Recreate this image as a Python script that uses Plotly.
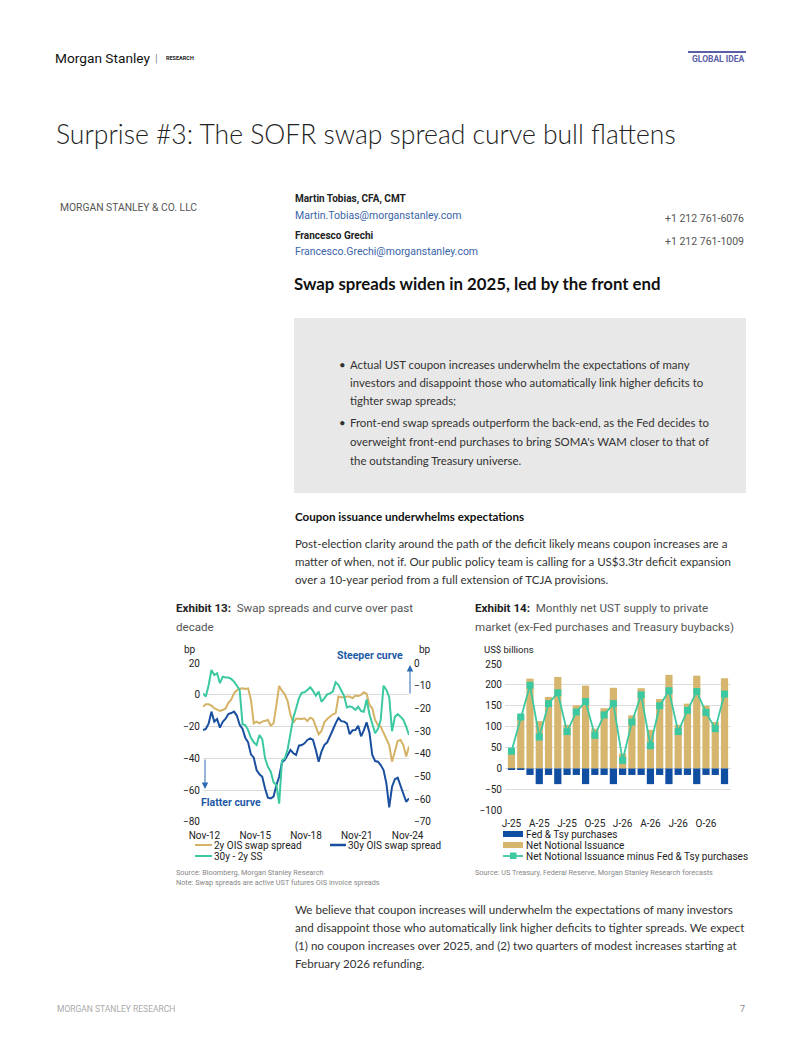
import plotly.graph_objects as go
import pandas as pd

W, H = 802, 1037


def X(px):
    return px / W


def Y(py):
    return 1 - py / H


# ---------------- Exhibit 13 data (bp) ----------------
dates13 = pd.date_range("2012-10-01", periods=74, freq="2MS")
ois2y = [-7.4, -5.9, -5.9, -6.7, -8.4, -9.1, -10.1, -9.5, -8.5, -5, -3, 1, 3, 4, 4.2, 3.8, 4.2, -3,
         -17.9, -16.8, -17.9, -16.8, -16.4, -15.8, -19.4, -17.9, -6.3, 5.7, 2.5, 0.4, -3.8, -12.6,
         -17.5, -15, -15, -15.2, -14.7, -16.4, -14.3, -15.2, -20, -24.8, -22.7, -17.3, -15.2, -13.7,
         -12.2, -11.6, -1, -1.5, -1.5, -1, -1, -2.1, -0.4, -0.6, 0, 1.7, 0.8, -6.3, -8.4, -15.8,
         -18.9, -20, -24.2, -27.4, -31.6, -42.1, -34.7, -29, -28.4, -31.6, -38.9, -32.6]
ois30y = [-22.1, -21.5, -17.9, -10.5, -16.8, -15.2, -20.6, -17, -15, -12, -11.4, -10.5, -13, -18.9,
          -21.5, -27, -29.9, -37.5, -39.6, -47.4, -50.1, -51.6, -59, -64.8, -65.3, -64.2, -56.8,
          -51.6, -42.5, -41, -37.9, -34.7, -36.8, -37.9, -32, -31.6, -30.5, -28.4, -27.4, -28.4,
          -34.7, -42.1, -35.8, -31.6, -29.9, -26.3, -22.1, -17.9, -14.5, -16.5, -16.8, -17.9, -24.8,
          -22.3, -22.1, -19.4, -26.1, -22.3, -17.3, -23.8, -37.9, -41.7, -42.1, -44.2, -47.4, -55.8,
          -71, -57.9, -53.1, -52.2, -57.3, -61.5, -67.4, -65.3]
curve30s2s = [-13.3, -14.7, -9.6, -2.9, -5.2, -4.4, -8.8, -5.9, -6.3, -6.3, -6.9, -8.1, -9.9, -11.8,
              -27, -27.3, -29.5, -32.9, -34.9, -36.1, -31.7, -33.5, -42, -45.7, -47.9, -52.6, -53.8,
              -62, -43, -42, -38, -31, -24, -20, -15.5, -13, -12.8, -11.8, -10.6, -12.2, -14.3, -12.5,
              -17, -15.5, -13.7, -13.3, -12.5, -8.4, -9.5, -12, -14.5, -19.5, -19, -19.5, -20.6, -19.2,
              -21.1, -21.4, -16, -22.5, -26.5, -30.9, -29, -25, -9.9, -11.8, -15, -30, -23.6, -22.5,
              -23.6, -25, -28, -31.7]
x13_tickvals = ["2012-11-01", "2015-11-01", "2018-11-01", "2021-11-01", "2024-11-01"]
x13_ticktext = ["Nov-12", "Nov-15", "Nov-18", "Nov-21", "Nov-24"]

# ---------------- Exhibit 14 data (US$ bn) ----------------
months14 = ["Jan-25", "Feb-25", "Mar-25", "Apr-25", "May-25", "Jun-25", "Jul-25", "Aug-25", "Sep-25",
            "Oct-25", "Nov-25", "Dec-25", "Jan-26", "Feb-26", "Mar-26", "Apr-26", "May-26", "Jun-26",
            "Jul-26", "Aug-26", "Sep-26", "Oct-26", "Nov-26", "Dec-26"]
net_issuance = [45, 127, 215, 113, 171, 219, 104, 151, 198, 95, 144, 193,
                35, 127, 192, 92, 166, 224, 104, 155, 222, 150, 111, 216]
fed_tsy = [-4, -4, -16, -38, -16, -38, -16, -16, -38, -16, -16, -38,
           -16, -16, -16, -38, -16, -38, -16, -16, -38, -16, -16, -38]
net_minus = [41, 123, 199, 75, 155, 181, 88, 135, 160, 79, 128, 155,
             19, 111, 176, 54, 150, 186, 88, 139, 184, 134, 95, 178]
x14_tickvals = months14[::3]
x14_ticktext = ["J-25", "A-25", "J-25", "O-25", "J-26", "A-26", "J-26", "O-26"]

GOLD = "#d4b266"
NAVY = "#1a4f9f"
TEAL = "#3cc8a0"
BARNAVY = "#0f4ea0"
BARGOLD = "#d6b66f"
BLUE_TXT = "#1d5aa6"
GRID = "#dcdcdc"
BODY = "Lato"
CH = "Roboto"

fig = go.Figure()

fig.add_trace(go.Scatter(x=dates13, y=ois2y, mode="lines", line=dict(color=GOLD, width=2),
                         xaxis="x", yaxis="y", showlegend=False))
fig.add_trace(go.Scatter(x=dates13, y=ois30y, mode="lines", line=dict(color=NAVY, width=2),
                         xaxis="x", yaxis="y", showlegend=False))
fig.add_trace(go.Scatter(x=dates13, y=curve30s2s, mode="lines", line=dict(color=TEAL, width=2),
                         xaxis="x", yaxis="y2", showlegend=False))

fig.add_trace(go.Bar(x=months14, y=fed_tsy, marker=dict(color=BARNAVY, line=dict(width=0)), width=0.78,
                     xaxis="x2", yaxis="y3", showlegend=False))
fig.add_trace(go.Bar(x=months14, y=net_issuance, marker=dict(color=BARGOLD, line=dict(width=0)), width=0.78,
                     xaxis="x2", yaxis="y3", showlegend=False))
fig.add_trace(go.Scatter(x=months14, y=net_minus, mode="lines+markers",
                         line=dict(color=TEAL, width=1.8),
                         marker=dict(symbol="square", size=7, color=TEAL),
                         xaxis="x2", yaxis="y3", showlegend=False))

tickfont = dict(family=CH, size=10, color="#222")

fig.update_layout(
    width=W, height=H, margin=dict(l=0, r=0, t=0, b=0, autoexpand=False),
    paper_bgcolor="white", plot_bgcolor="white",
    barmode="relative", bargap=0.2, showlegend=False,
    font=dict(family=CH),
    xaxis=dict(domain=[X(203), X(409)], anchor="y", type="date",
               range=["2012-10-01", "2024-12-01"], tickvals=x13_tickvals, ticktext=x13_ticktext,
               showgrid=False, zeroline=False, showline=False, ticks="", tickfont=tickfont,
               ticklabelstandoff=6),
    yaxis=dict(domain=[Y(821.7), Y(663.3)], anchor="x", range=[-80, 20], dtick=20,
               showgrid=True, gridcolor=GRID, gridwidth=1, zeroline=False, showline=False,
               ticks="", tickfont=tickfont, ticklabelstandoff=2),
    yaxis2=dict(overlaying="y", side="right", anchor="x", range=[-70, 0], dtick=10,
                showgrid=False, zeroline=False, showline=False, ticks="", tickfont=tickfont,
                ticklabelstandoff=4),
    xaxis2=dict(domain=[X(505), X(731)], anchor="y3", type="category", range=[-0.7, 23.7],
                tickvals=x14_tickvals, ticktext=x14_ticktext, showgrid=False, zeroline=False,
                showline=False, ticks="", tickfont=tickfont, ticklabelstandoff=6),
    yaxis3=dict(domain=[Y(810), Y(664)], anchor="x2", range=[-100, 250], dtick=50,
                showgrid=True, gridcolor=GRID, gridwidth=1, zeroline=False, showline=False,
                ticks="", tickfont=tickfont, ticklabelstandoff=2),
)

ann = []


def T(x, y, s, size=12, color="#222", family=BODY, weight=None, xanchor="left"):
    f = dict(size=size, color=color, family=family)
    if weight:
        f["weight"] = weight
    ann.append(dict(x=X(x), y=Y(y), xref="paper", yref="paper", text=s, showarrow=False,
                    xanchor=xanchor, yanchor="middle", font=f, borderpad=0))


# header
T(54, 58, "Morgan Stanley", 13.7, "#111", CH)
T(154, 58, "|", 11, "#888", CH)
T(165, 58, "<b>RESEARCH</b>", 5.5, "#222", CH)
T(746, 59, "<b>GLOBAL IDEA</b>", 8.5, "#5a60a8", CH, xanchor="right")
T(55, 134, "Surprise #3: The SOFR swap spread curve bull flattens", 26.5, "#222", BODY, 300)

T(59, 207, "MORGAN STANLEY &amp; CO. LLC", 10.3, "#555", CH)
T(294, 199, "<b>Martin Tobias, CFA, CMT</b>", 10, "#222", CH)
T(294, 215, "Martin.Tobias@morganstanley.com", 10.5, "#3a64a8", CH)
T(294, 235, "<b>Francesco Grechi</b>", 10, "#222", CH)
T(294, 251, "Francesco.Grechi@morganstanley.com", 10.5, "#3a64a8", CH)
T(664, 219, "+1 212 761-6076", 10.5, "#555", CH)
T(664, 242, "+1 212 761-1009", 10.5, "#555", CH)

T(293, 283, "<b>Swap spreads widen in 2025, led by the front end</b>", 16.8, "#111", BODY)

bul = [(364, "Actual UST coupon increases underwhelm the expectations of many", True),
       (382, "investors and disappoint those who automatically link higher deficits to", False),
       (401, "tighter swap spreads;", False),
       (423, "Front-end swap spreads outperform the back-end, as the Fed decides to", True),
       (441, "overweight front-end purchases to bring SOMA's WAM closer to that of", False),
       (460, "the outstanding Treasury universe.", False)]
for yy, s, b in bul:
    if b:
        T(338, yy, "•", 11.4, "#333", BODY)
    T(349, yy, s, 11.4, "#333", BODY)

T(294, 517, "<b>Coupon issuance underwhelms expectations</b>", 11.6, "#111", BODY)
para1 = ["Post-election clarity around the path of the deficit likely means coupon increases are a",
         "matter of when, not if. Our public policy team is calling for a US$3.3tr deficit expansion",
         "over a 10-year period from a full extension of TCJA provisions."]
for i, s in enumerate(para1):
    T(294, 543 + i * 18.4, s, 11.5, "#333", BODY)

# exhibit titles
T(175, 608, "<b>Exhibit 13:</b>  <span style='color:#555'>Swap spreads and curve over past</span>", 11.6, "#222", CH)
T(175, 627, "<span style='color:#555'>decade</span>", 11.6, "#555", CH)
T(474, 608, "<b>Exhibit 14:</b>  <span style='color:#555'>Monthly net UST supply to private</span>", 11.6, "#222", CH)
T(474, 627, "market (ex-Fed purchases and Treasury buybacks)", 11.6, "#555", CH)

# axis captions
T(183, 649, "bp", 10, "#222", CH)
T(418, 649, "bp", 10, "#222", CH)
T(483, 649, "US$ billions", 9.5, "#222", CH)

# exhibit 13 annotations
T(404, 655, "<b>Steeper curve</b>", 10.5, BLUE_TXT, CH, xanchor="right")
T(200, 802, "<b>Flatter curve</b>", 10.5, BLUE_TXT, CH)
ann.append(dict(x=X(205), y=Y(789), xref="paper", yref="paper", ax=0, ay=-31, text="",
                showarrow=True, arrowhead=2, arrowsize=1.3, arrowwidth=1, arrowcolor="#2d6ab0"))
ann.append(dict(x=X(410), y=Y(665), xref="paper", yref="paper", ax=0, ay=30, text="",
                showarrow=True, arrowhead=2, arrowsize=1.3, arrowwidth=1, arrowcolor="#2d6ab0"))

# legends / decorations
shapes = []
shapes.append(dict(type="rect", xref="paper", yref="paper", x0=X(294), x1=X(746), y0=Y(493), y1=Y(318),
                   fillcolor="#e8e8e8", line=dict(width=0), layer="below"))
shapes.append(dict(type="line", xref="paper", yref="paper", x0=X(688), x1=X(746), y0=Y(52), y1=Y(52),
                   line=dict(color="#5a60a8", width=2)))


def legline(x0, x1, y, color, w=2):
    shapes.append(dict(type="line", xref="paper", yref="paper", x0=X(x0), x1=X(x1), y0=Y(y), y1=Y(y),
                       line=dict(color=color, width=w)))


legline(195, 212, 845, GOLD)
T(213, 845, "2y OIS swap spread", 10, "#222", CH)
legline(330, 346, 845, NAVY, 2.5)
T(347, 845, "30y OIS swap spread", 10, "#222", CH)
legline(195, 212, 856, TEAL)
T(213, 856, "30y - 2y SS", 10, "#222", CH)

shapes.append(dict(type="rect", xref="paper", yref="paper", x0=X(503), x1=X(523), y0=Y(837), y1=Y(831),
                   fillcolor=BARNAVY, line=dict(width=0)))
T(525, 834, "Fed &amp; Tsy purchases", 10, "#222", CH)
shapes.append(dict(type="rect", xref="paper", yref="paper", x0=X(503), x1=X(523), y0=Y(848), y1=Y(842),
                   fillcolor=BARGOLD, line=dict(width=0)))
T(525, 845, "Net Notional Issuance", 10, "#222", CH)
legline(503, 523, 856, TEAL, 1.8)
shapes.append(dict(type="rect", xref="paper", yref="paper", x0=X(510), x1=X(516.5), y0=Y(859), y1=Y(852.5),
                   fillcolor=TEAL, line=dict(width=0)))
T(525, 856, "Net Notional Issuance minus Fed &amp; Tsy purchases", 10, "#222", CH)

# sources
T(175, 872, "Source: Bloomberg, Morgan Stanley Research", 7.3, "#888", CH)
T(175, 882, "Note: Swap spreads are active UST futures OIS invoice spreads", 7.3, "#888", CH)
T(474, 872, "Source: US Treasury, Federal Reserve, Morgan Stanley Research forecasts", 7.3, "#888", CH)

para2 = ["We believe that coupon increases will underwhelm the expectations of many investors",
         "and disappoint those who automatically link higher deficits to tighter spreads. We expect",
         "(1) no coupon increases over 2025, and (2) two quarters of modest increases starting at",
         "February 2026 refunding."]
for i, s in enumerate(para2):
    T(294, 909 + i * 18.2, s, 11.6, "#333", BODY)

# footer
T(56, 1009, "MORGAN STANLEY RESEARCH", 8.5, "#aaa", CH)
T(746, 1009, "7", 9, "#888", CH, xanchor="right")

fig.update_layout(annotations=ann, shapes=shapes)

fig.write_html("out.html", config={"displayModeBar": False},
               post_script="document.body.style.margin='0';")
